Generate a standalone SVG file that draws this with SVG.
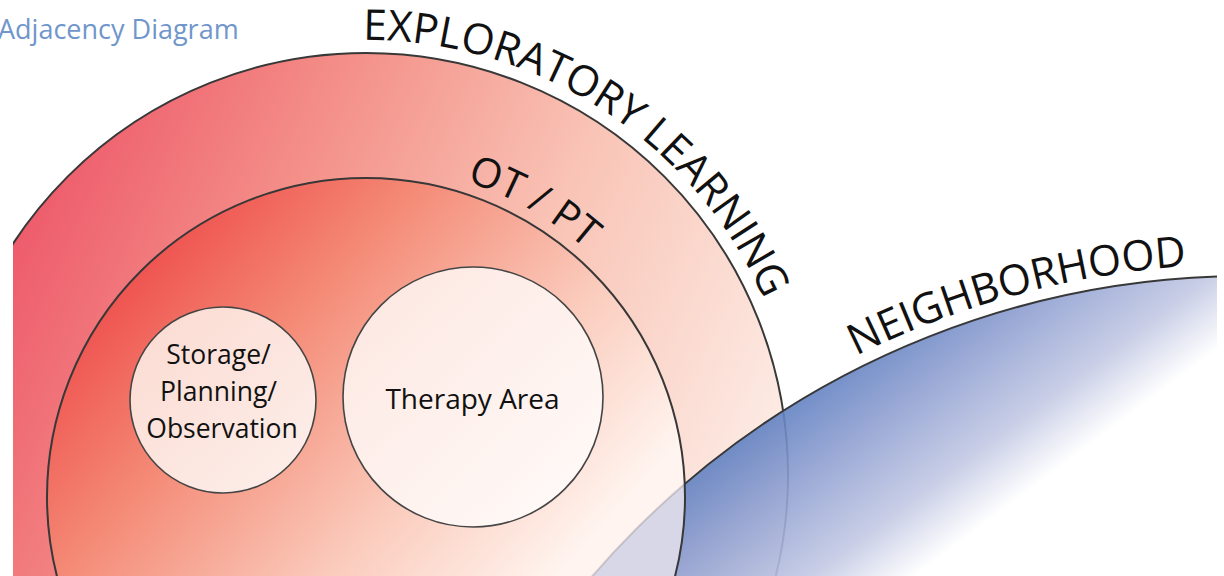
<svg xmlns="http://www.w3.org/2000/svg" width="1224" height="576" viewBox="0 0 1224 576">
  <style>
    .ring { stroke: #383838; stroke-width: 2; }
    .room { stroke: #454545; stroke-width: 1.6; }
    .lbl { font-family: "Open Sans", "Liberation Sans", sans-serif; fill: #111; }
    .arc { font-family: "Open Sans", "Liberation Sans", sans-serif; fill: #111; font-size: 42.5px; }
  </style>
  <defs>
    <clipPath id="page">
      <rect x="13" y="0" width="1204" height="576"/>
    </clipPath>
    <clipPath id="innerClip">
      <circle cx="366" cy="497" r="319"/>
    </clipPath>
    <linearGradient id="gOuter" gradientUnits="userSpaceOnUse" x1="20" y1="230" x2="760" y2="560">
      <stop offset="0" stop-color="#ee5c6c"/>
      <stop offset="0.3" stop-color="#f4928a"/>
      <stop offset="0.6" stop-color="#f9c4b6"/>
      <stop offset="1" stop-color="#fdf0ea"/>
    </linearGradient>
    <linearGradient id="gInner" gradientUnits="userSpaceOnUse" x1="130" y1="240" x2="530" y2="606">
      <stop offset="0" stop-color="#ee4a4a"/>
      <stop offset="0.32" stop-color="#f48a76"/>
      <stop offset="0.7" stop-color="#fbcdbe"/>
      <stop offset="1" stop-color="#fff4ef"/>
    </linearGradient>
    <linearGradient id="gBlue" gradientUnits="userSpaceOnUse" x1="760" y1="380" x2="910" y2="580">
      <stop offset="0" stop-color="#5a7cbf"/>
      <stop offset="0.15" stop-color="#6282c2"/>
      <stop offset="0.4" stop-color="#8d9ed0"/>
      <stop offset="0.75" stop-color="#c3c9e4"/>
      <stop offset="1" stop-color="#ffffff"/>
    </linearGradient>
    <linearGradient id="gStorage" gradientUnits="userSpaceOnUse" x1="150" y1="320" x2="300" y2="480">
      <stop offset="0" stop-color="#fbdcd3"/>
      <stop offset="1" stop-color="#fdeee9"/>
    </linearGradient>
    <linearGradient id="gTherapy" gradientUnits="userSpaceOnUse" x1="370" y1="290" x2="580" y2="510">
      <stop offset="0" stop-color="#fde8e2"/>
      <stop offset="1" stop-color="#fffaf8"/>
    </linearGradient>
    <path id="pOuter" d="M 290.5 46.6 A 435 435 0 0 1 801 475"/>
    <path id="pInner" d="M 366 166 A 331 331 0 0 1 697 497"/>
    <path id="pBlue" d="M 744.5 422.4 A 876 876 0 0 1 1399.1 277.3"/>
  </defs>

  <text id="title" x="-2" y="39" font-family="'Open Sans', 'Liberation Sans', sans-serif" font-size="27" fill="#7096cc">Adjacency Diagram</text>

  <g clip-path="url(#page)">
    <g id="exploratory-learning">
      <circle cx="366" cy="475" r="422" fill="url(#gOuter)" class="ring"/>
    </g>
    <g id="neighborhood">
      <circle cx="1247" cy="1140" r="864" fill="url(#gBlue)" fill-opacity="0.9" class="ring"/>
    </g>
    <g id="ot-pt">
      <circle cx="366" cy="497" r="319" fill="url(#gInner)"/>
      <g clip-path="url(#innerClip)">
        <circle cx="1247" cy="1140" r="864" fill="#8fa0dd" fill-opacity="0.35" stroke="#000" stroke-opacity="0.15" stroke-width="2"/>
      </g>
      <circle cx="366" cy="497" r="319" fill="none" class="ring"/>
    </g>
  </g>

  <g id="storage">
    <circle cx="223" cy="400" r="93" fill="url(#gStorage)" class="room"/>
    <text class="lbl" font-size="26.5" text-anchor="middle">
      <tspan x="222" y="364">Storage/</tspan>
      <tspan x="222" y="401">Planning/</tspan>
      <tspan x="222" y="438">Observation</tspan>
    </text>
  </g>

  <g id="therapy-area">
    <circle cx="473" cy="397" r="130" fill="url(#gTherapy)" class="room"/>
    <text class="lbl" font-size="28" text-anchor="middle" x="472.5" y="409">Therapy Area</text>
  </g>

  <g id="labels">
    <text class="arc"><textPath href="#pOuter" startOffset="73">EXPLORATORY LEARNING</textPath></text>
    <text class="arc" style="font-size:41px"><textPath href="#pInner" startOffset="102">OT / PT</textPath></text>
    <text class="arc"><textPath href="#pBlue" startOffset="130">NEIGHBORHOOD</textPath></text>
  </g>
</svg>
